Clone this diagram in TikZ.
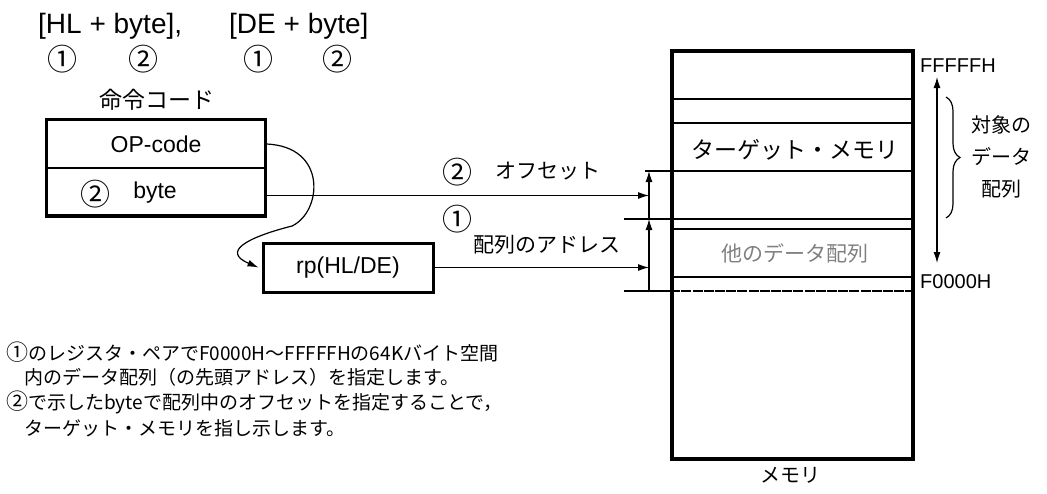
\documentclass[tikz,border=0pt]{standalone}
\usepackage{fontspec}
\setmainfont{Liberation Sans}
\newfontfamily\jp{Noto Sans CJK JP}
\usetikzlibrary{arrows.meta,decorations.pathreplacing}
\newcommand\setsz[1]{\fontsize{#1}{#1}\selectfont}
\newcommand\cnum[1]{{\fontsize{22}{19}\selectfont #1}}

\tikzset{
  cell/.style={draw, line width=1.6pt, minimum width=218pt, minimum height=47.5pt, inner sep=0pt},
  thin line/.style={line width=1.2pt},
  level line/.style={line width=1.8pt},
  lbl/.style={inner sep=0pt, font=\setsz{23}},
  jlbl/.style={inner sep=0pt, font=\jp\setsz{21}},
  circ/.style={inner sep=0pt, font=\jp\setsz{30}},
  note/.style={anchor=west, inner sep=0pt, font=\jp\setsz{19}},
}

\begin{document}
\begin{tikzpicture}[x=1pt, y=-1pt, >={Latex[length=11pt,width=7pt]}]
    \useasboundingbox (0,0) rectangle (1047,493);
    % operand forms
    \node[lbl, anchor=west, font=\setsz{28}] (hlform) at (38,26) {[HL + byte],};
    \node[lbl, anchor=west, font=\setsz{28}] (deform) at (229,26) {[DE + byte]};
    \node[circ] (hlone) at (62,59) {①}; \node[circ] (hltwo) at (143,59) {②};
    \node[circ] (deone) at (258,59) {①}; \node[circ] (detwo) at (337,59) {②};
    % instruction code
    \node[jlbl, font=\jp\setsz{23}] (codettl) at (157,100) {命令コード};
    \node[cell, font=\setsz{23}] (op) at (156,144) {OP-code};
    \node[cell] (byte) at (156,191.5) {};
    \draw[line width=3pt] (op.north west) rectangle (byte.south east);
    \node[circ] (bytenum) at (95,194) {②};
    \node[lbl] (bytetxt) at (155,193) {byte};
    \node[draw, line width=3pt, minimum width=170pt, minimum height=49pt, font=\setsz{23}] (rp) at (348,267.5) {rp(HL/DE)};
    % memory
    \node[draw, line width=3.6pt, minimum width=241pt, minimum height=408pt] (mem) at (792.5,255) {};
    \foreach \yy in {99,123,229,277} {\draw[thin line] (mem.west |- 0,\yy) -- (mem.east |- 0,\yy);}
    \coordinate (top2) at (645,171); \coordinate (base2) at (624,219); \coordinate (base1) at (624,291);
    \draw[thin line] (top2) -- (top2 -| mem.east);
    \draw[level line] (base2) -- (base2 -| mem.east);
    \draw[level line] (base1) -- (base1 -| mem.west);
    \draw[level line, dash pattern=on 10pt off 1.2pt] (base1 -| mem.west) -- (base1 -| mem.east);
    \node[jlbl, font=\jp\setsz{23}] (target) at (795,150) {ターゲット・メモリ};
    \node[jlbl, text=black!50] (other) at (795,253) {他のデータ配列};
    \node[lbl, anchor=west, font=\setsz{20}] (hiaddr) at (920,66) {FFFFFH};
    \node[lbl, anchor=west, font=\setsz{20}] (loaddr) at (920,282) {F0000H};
    \node[jlbl, font=\jp\setsz{20}] (memttl) at (790,475) {メモリ};
    % offsets
    \coordinate (v1) at (649,291); \coordinate (v2) at (649,219); \coordinate (v3) at (649,171);
    \draw[thin line, ->] (v1) -- (v2);
    \draw[thin line, ->] (v2) -- (v3);
    \coordinate (offarr) at ([yshift=-4pt]byte.east);
    \draw[thin line, ->] (offarr) -- (offarr -| v1);
    \draw[thin line, ->] (rp.east) -- (rp.east -| v1);
    \draw[thin line, ->] (op.east) .. controls (328,146) and (322,212) .. (292,226)
        .. controls (245,238) and (222,252) .. ([xshift=-3pt]rp.west);
    \node[circ] (offnum) at (457,172) {②}; \node[jlbl, anchor=west] (offtxt) at (495,171) {オフセット};
    \node[circ] (adrnum) at (457,219) {①}; \node[jlbl, anchor=west] (adrtxt) at (473,245) {配列のアドレス};
    % target array
    \coordinate (rtop) at (937,77); \coordinate (rbot) at (937,263);
    \draw[thin line, <->] (rtop) -- (rbot);
    \coordinate (bt) at (946,97); \coordinate (bb) at (946,218);
    \draw[thin line, decorate, decoration={brace, amplitude=14pt}] (bt) -- (bb);
    \node[jlbl, font=\jp\setsz{20}, align=center] (arrttl) at (1001,157) {対象の\\[12pt]データ\\[12pt]配列};
    % notes
    \node[note] (note1) at (6,352) {\cnum{①}のレジスタ・ペアでF0000H〜FFFFFHの64Kバイト空間};
    \node[note] (note2) at (24,377) {内のデータ配列（の先頭アドレス）を指定します。};
    \node[note] (note3) at (6,402) {\cnum{②}で示したbyteで配列中のオフセットを指定することで，};
    \node[note] (note4) at (24,428) {ターゲット・メモリを指し示します。};
\end{tikzpicture}
\end{document}
